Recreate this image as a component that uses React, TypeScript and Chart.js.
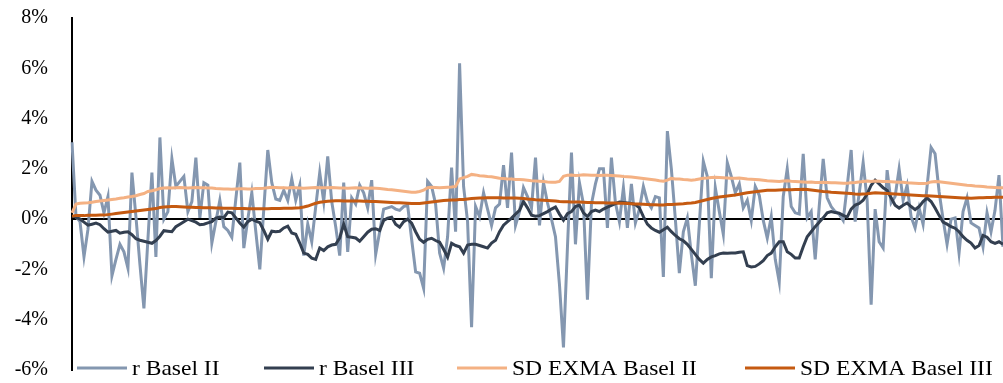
import React, { useEffect, useRef } from "react";
import { Chart, registerables } from "chart.js";

Chart.register(...registerables);

const seriesNames = ["r Basel II", "r Basel III", "SD EXMA Basel II", "SD EXMA Basel III"];
const seriesColors = ["#8497b0", "#333f50", "#f4b183", "#c55a11"];
const yTicks = [-6, -4, -2, 0, 2, 4, 6, 8];

const rBaselII = [
  3.06, 0.1, -0.1, -1.5, -0.4, 1.5, 1.15, 0.95, 0.25, 0.9,
  -2.25, -1.6, -1.0, -1.3, -1.95, 1.85, 0.1, -1.8, -3.55, -0.8,
  1.85, -1.5, 3.25, 0.0, 0.3, 2.4, 1.3, 1.5, 1.7, 0.3,
  0.7, 2.45, 0.05, 1.45, 1.35, -0.95, -0.1, 0.75, -0.3, -0.45,
  -0.72, 0.8, 2.25, -1.15, 0.0, 1.05, -0.5, -2.0, 0.4, 2.75,
  1.45, 0.8, 0.75, 1.15, 0.75, 1.6, 0.75, 1.35, -1.45, -0.2,
  -0.9, 0.5, 1.85, 0.7, 2.5, 0.7, -0.3, -1.45, 1.45, -1.3,
  0.85, 0.6, 1.35, 1.05, 0.45, 1.55, -1.4, -0.5, 0.4, 0.45,
  0.5, 0.4, 0.35, 0.5, 0.55, -0.8, -2.1, -2.15, -2.75, 1.5,
  1.3, 0.6, -1.35, -1.95, -0.7, 2.05, -0.5, 6.2, 1.3, -0.1,
  -4.3, 0.5, 0.1, 1.05, 0.4, -0.25, 0.45, 0.6, 2.15, 0.45,
  2.65, -0.25, 0.3, 1.25, 0.9, 0.45, 2.45, -0.25, 1.45, 0.65,
  0.0, -0.7, -2.6, -5.1, -1.1, 2.65, -1.0, 1.45, 0.6, -3.2,
  0.6, 1.4, 2.0, 2.0, -0.35, 2.45, 0.65, -0.1, 1.25, -0.35,
  1.4, -0.15, 0.4, 1.3, 0.7, 0.45, 0.9, 0.85, -2.3, 3.5,
  2.0, 0.0, -2.15, -0.5, 0.05, -1.4, -2.65, -0.2, 2.3, 1.7,
  -2.35, 1.25, 0.3, -0.6, 2.25, 1.7, 1.05, 1.4, 0.45, 0.75,
  -0.05, 1.3, 0.95, -0.05, -0.75, 0.1, -1.6, -2.5, 0.9, 2.0,
  0.5, 0.25, 0.2, 2.6, 0.05, 0.3, -1.6, 0.5, 2.4, 0.85,
  0.5, 0.3, 0.2, -0.05, 1.3, 2.75, -0.1, 1.0, 2.25, 0.75,
  -3.4, 0.4, -0.9, -1.15, 1.95, 0.65, 0.9, 2.0, 0.75, 1.35,
  0.1, -0.35, 0.45, -0.2, 1.3, 2.85, 2.6, 1.1, 0.0, -1.0,
  0.0, 0.05, -1.35, 0.3, 0.85, -0.15, -0.25, -0.35, -1.1, 0.25,
  -0.5, 0.35, 1.75, -1.1,
];

const rBaselIII = [
  0.12, 0.08, 0.0, -0.12, -0.24, -0.2, -0.16, -0.22, -0.38, -0.52,
  -0.48, -0.45, -0.56, -0.52, -0.5, -0.62, -0.78, -0.84, -0.88, -0.92,
  -0.96, -0.85, -0.68, -0.46, -0.48, -0.5, -0.3, -0.2, -0.1, 0.0,
  -0.06, -0.12, -0.22, -0.2, -0.15, -0.1, 0.04, 0.08, 0.06, 0.28,
  0.25, 0.05, -0.15, -0.32, -0.1, 0.0, -0.08, -0.14, -0.45, -0.8,
  -0.48, -0.5, -0.48, -0.35, -0.28, -0.55, -0.6, -0.95, -1.35, -1.4,
  -1.55, -1.6, -1.15, -1.25, -1.1, -1.03, -1.0, -0.75, -0.2, -0.7,
  -0.72, -0.75, -0.88, -0.7, -0.52, -0.4, -0.38, -0.45, -0.05, 0.04,
  0.08, -0.2, -0.32, -0.1, 0.0, -0.16, -0.5, -0.8, -0.92, -0.8,
  -0.76, -0.85, -0.92, -1.2, -1.51, -0.96, -1.05, -1.1, -1.35, -1.03,
  -1.0, -1.0, -1.05, -1.1, -1.15, -0.95, -0.84, -0.5, -0.24, -0.1,
  0.04, 0.2, 0.35, 0.7, 0.45, 0.16, 0.12, 0.14, 0.22, 0.3,
  0.4, 0.48, 0.2, -0.04, 0.22, 0.3, 0.5, 0.56, 0.25, 0.1,
  0.3, 0.36, 0.3, 0.4, 0.48, 0.55, 0.62, 0.68, 0.66, 0.64,
  0.62, 0.58, 0.45, 0.1, -0.2, -0.35, -0.45, -0.52, -0.42, -0.32,
  -0.5, -0.65, -0.78, -0.86, -1.0, -1.2, -1.4, -1.6, -1.75, -1.6,
  -1.5, -1.45, -1.38, -1.35, -1.36, -1.35, -1.35, -1.32, -1.3, -1.85,
  -1.9, -1.88, -1.78, -1.65, -1.45, -1.35, -1.1, -0.9, -0.9, -1.3,
  -1.4, -1.55, -1.55, -1.1, -0.7, -0.5, -0.3, -0.12, 0.05, 0.25,
  0.3, 0.26, 0.24, 0.15, 0.08, 0.4, 0.56, 0.62, 0.75, 1.0,
  1.35, 1.55, 1.4, 1.25, 1.15, 0.85, 0.55, 0.44, 0.55, 0.64,
  0.5, 0.38, 0.5, 0.7, 0.84, 0.7, 0.44, 0.15, -0.12, -0.2,
  -0.3, -0.36, -0.5, -0.7, -0.84, -0.95, -1.15, -1.05, -0.65, -0.72,
  -0.9, -0.96, -0.9, -1.0,
];

const sdExmaBaselII = [
  0.25, 0.6, 0.63, 0.64, 0.65, 0.67, 0.7, 0.72, 0.74, 0.76,
  0.78, 0.8, 0.83, 0.85, 0.88, 0.9, 0.93, 0.98, 1.02, 1.1,
  1.13, 1.17, 1.22, 1.24, 1.25, 1.24, 1.25, 1.26, 1.25, 1.24,
  1.25, 1.26, 1.25, 1.25, 1.24, 1.24, 1.22, 1.21, 1.2, 1.2,
  1.19, 1.2, 1.21, 1.21, 1.2, 1.2, 1.22, 1.22, 1.23, 1.25,
  1.27, 1.26, 1.25, 1.25, 1.24, 1.26, 1.25, 1.24, 1.23, 1.24,
  1.25, 1.26, 1.25, 1.25, 1.25, 1.26, 1.25, 1.24, 1.24, 1.23,
  1.24, 1.25, 1.24, 1.24, 1.23, 1.24, 1.23, 1.22, 1.2, 1.18,
  1.17, 1.15, 1.13, 1.11, 1.09, 1.07, 1.07, 1.1, 1.15, 1.25,
  1.27, 1.26, 1.25, 1.26, 1.27, 1.28, 1.3, 1.6, 1.65, 1.7,
  1.78, 1.76, 1.73, 1.72, 1.7, 1.69, 1.66, 1.63, 1.62, 1.6,
  1.6, 1.58, 1.58, 1.57, 1.55, 1.53, 1.52, 1.51, 1.5, 1.48,
  1.47, 1.47, 1.5, 1.7, 1.75, 1.76, 1.74, 1.75, 1.77, 1.76,
  1.75, 1.75, 1.74, 1.75, 1.75, 1.74, 1.73, 1.72, 1.7, 1.69,
  1.68, 1.66, 1.64, 1.62, 1.6, 1.58, 1.56, 1.53, 1.51, 1.55,
  1.62, 1.6, 1.6, 1.58, 1.57, 1.55, 1.57, 1.6, 1.63, 1.64,
  1.66, 1.67, 1.66, 1.65, 1.64, 1.63, 1.63, 1.64, 1.62, 1.6,
  1.59, 1.58, 1.57, 1.55, 1.53, 1.52, 1.51, 1.5, 1.52, 1.53,
  1.51, 1.5, 1.49, 1.48, 1.47, 1.48, 1.46, 1.46, 1.47, 1.46,
  1.45, 1.45, 1.44, 1.43, 1.43, 1.45, 1.46, 1.48, 1.5, 1.52,
  1.5, 1.52, 1.51, 1.5, 1.5, 1.49, 1.48, 1.47, 1.47, 1.45,
  1.44, 1.43, 1.42, 1.42, 1.43, 1.48, 1.5, 1.49, 1.47, 1.45,
  1.43, 1.41, 1.39, 1.37, 1.35, 1.34, 1.32, 1.31, 1.3, 1.28,
  1.27, 1.26, 1.25, 1.25,
];

const sdExmaBaselIII = [
  0.12, 0.14, 0.14, 0.14, 0.15, 0.15, 0.15, 0.16, 0.16, 0.18,
  0.2, 0.22, 0.24, 0.26, 0.28, 0.3, 0.32, 0.34, 0.36, 0.38,
  0.4, 0.42, 0.46, 0.48, 0.49, 0.5, 0.5, 0.49, 0.48, 0.47,
  0.47, 0.46, 0.46, 0.45, 0.45, 0.45, 0.44, 0.44, 0.43, 0.43,
  0.43, 0.42, 0.42, 0.42, 0.41, 0.41, 0.41, 0.41, 0.41, 0.41,
  0.42, 0.42, 0.42, 0.43, 0.43, 0.43, 0.44, 0.45, 0.48, 0.52,
  0.58, 0.63, 0.67, 0.69, 0.71, 0.72, 0.73, 0.73, 0.72, 0.72,
  0.72, 0.72, 0.72, 0.71, 0.71, 0.7, 0.7, 0.69, 0.68, 0.67,
  0.66, 0.65, 0.65, 0.64, 0.63, 0.62, 0.62, 0.62, 0.64, 0.66,
  0.68, 0.7, 0.72, 0.74, 0.75, 0.76, 0.76, 0.78, 0.78, 0.8,
  0.82, 0.83, 0.84, 0.84, 0.85, 0.85, 0.85, 0.85, 0.84, 0.84,
  0.84, 0.84, 0.83, 0.82, 0.8, 0.79, 0.77, 0.76, 0.75, 0.74,
  0.73, 0.72, 0.7, 0.69, 0.69, 0.68, 0.68, 0.68, 0.67, 0.66,
  0.66, 0.65, 0.65, 0.65, 0.64, 0.64, 0.64, 0.63, 0.63, 0.62,
  0.61, 0.6, 0.6, 0.59, 0.58, 0.57, 0.57, 0.56, 0.56, 0.58,
  0.58, 0.59, 0.6, 0.61, 0.63, 0.64, 0.66, 0.7, 0.74, 0.78,
  0.82, 0.85, 0.88, 0.9, 0.92, 0.94, 0.96, 0.99, 1.02, 1.05,
  1.07, 1.09, 1.11, 1.13, 1.15, 1.15, 1.15, 1.16, 1.17, 1.17,
  1.17, 1.18, 1.18, 1.19, 1.18, 1.16, 1.14, 1.12, 1.1, 1.09,
  1.07, 1.06, 1.05, 1.04, 1.03, 1.02, 1.0, 0.99, 1.0, 1.01,
  1.03, 1.05, 1.04, 1.03, 1.02, 1.01, 1.0, 0.99, 0.98, 0.97,
  0.96, 0.95, 0.94, 0.93, 0.93, 0.92, 0.91, 0.9, 0.89, 0.88,
  0.87, 0.86, 0.85, 0.84, 0.84, 0.83, 0.84, 0.85, 0.85, 0.86,
  0.86, 0.87, 0.87, 0.87,
];

const periods = rBaselII.map((_, i) => String(i + 1));

const FONT = '"Times New Roman", "Liberation Serif", serif';

const legendOverlay = {
  id: "legendOverlay",
  afterDraw(chart: any) {
    const ctx = chart.ctx;
    const lineStarts = [77, 264, 457, 745];
    const lineLen = 50;
    const y = 368;
    ctx.save();
    ctx.font = `21px ${FONT}`;
    ctx.textBaseline = "middle";
    ctx.textAlign = "left";
    chart.data.datasets.forEach((ds: any, i: number) => {
      const x0 = lineStarts[i];
      ctx.strokeStyle = ds.borderColor;
      ctx.lineWidth = 3;
      ctx.beginPath();
      ctx.moveTo(x0, y);
      ctx.lineTo(x0 + lineLen, y);
      ctx.stroke();
      ctx.fillStyle = "#000";
      ctx.save();
      ctx.translate(x0 + lineLen + 5, y + 1);
      ctx.scale(1.12, 1);
      ctx.fillText(ds.label, 0, 0);
      ctx.restore();
    });
    ctx.restore();
  },
};

export default function App() {
  const canvasRef = useRef<HTMLCanvasElement | null>(null);

  useEffect(() => {
    if (!canvasRef.current) return;
    const values = [rBaselII, rBaselIII, sdExmaBaselII, sdExmaBaselIII];
    const chart = new Chart(canvasRef.current, {
      type: "line",
      data: {
        labels: periods,
        datasets: values.map((d, i) => ({
          label: seriesNames[i],
          data: d,
          borderColor: seriesColors[i],
          backgroundColor: seriesColors[i],
          borderWidth: 3,
          pointRadius: 0,
          tension: 0,
          fill: false,
          order: 4 - i,
        })),
      },
      options: {
        animation: false,
        responsive: true,
        maintainAspectRatio: false,
        layout: { padding: { top: 18, bottom: 13, left: 0, right: 0 } },
        plugins: { legend: { display: false }, tooltip: { enabled: false } },
        scales: {
          x: { display: false, offset: false },
          y: {
            min: yTicks[0],
            max: yTicks[yTicks.length - 1],
            afterBuildTicks: (scale: any) => {
              scale.ticks = yTicks.map((v) => ({ value: v }));
            },
            afterFit: (scale: any) => {
              scale.width = 72;
              scale.paddingTop = 0;
              scale.paddingBottom = 0;
            },
            ticks: {
              callback: (v: any) => `${v}%`,
              color: "#000",
              font: { family: FONT, size: 20 },
              padding: 24,
            },
            grid: {
              drawTicks: false,
              color: (c: any) => (c.tick && c.tick.value === 0 ? "#000" : "rgba(0,0,0,0)"),
              lineWidth: 2,
            },
            border: { display: true, color: "#000", width: 2 },
          },
        },
      },
      plugins: [legendOverlay],
    });
    return () => chart.destroy();
  }, []);

  return (
    <div style={{ position: "absolute", left: 0, top: 0, width: 1003, height: 383, background: "#fff" }}>
      <canvas ref={canvasRef} />
    </div>
  );
}
